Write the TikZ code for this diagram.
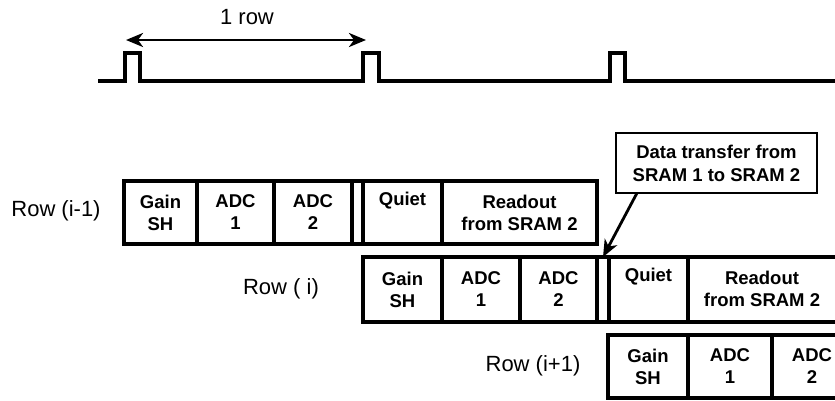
\documentclass[tikz,border=0pt]{standalone}
\usepackage{fontspec}
\setmainfont{Liberation Sans}
\usetikzlibrary{arrows.meta}
\tikzset{
  cell/.style={draw, line width=3.2pt, anchor=north west, inner sep=0pt, outer sep=0pt,
    align=center, font=\bfseries\fontsize{18.5}{22}\selectfont},
  txt/.style={inner sep=0pt, align=center, font=\bfseries\fontsize{18.5}{22}\selectfont},
  rowlabel/.style={inner sep=0pt, font=\fontsize{22}{26}\selectfont},
  wave/.style={line width=3.2pt, line join=miter},
  tip/.style={line width=2.8pt, -{Stealth[length=17pt,width=14pt,inset=5pt]}},
  dbltip/.style={line width=2.8pt, {Stealth[length=17pt,width=14pt,inset=5pt]}-{Stealth[length=17pt,width=14pt,inset=5pt]}},
}
\begin{document}
\begin{tikzpicture}[x=1pt,y=-1pt]
\useasboundingbox (0,0) rectangle (835,400);
\clip (0,0) rectangle (835,400);
\fill[white] (0,0) rectangle (835,400);

% waveform
\coordinate (w0) at (98,81);
\draw[wave] (w0) -- (125,81) -- (125,53) -- (140,53) -- (140,81)
  -- (363,81) -- (363,53) -- (379,53) -- (379,81)
  -- (610,81) -- (610,53) -- (625,53) -- (625,81) -- (840,81);
\coordinate (ra) at (126,40);
\coordinate (rb) at (366,40);
\draw[dbltip] (ra) -- (rb);
\node[rowlabel] (onerow) at (247,17) {1 row};

% Row (i-1)
\node[rowlabel] (l1) at (56,211) {Row (i-1)};
\node[cell, minimum width=73pt, minimum height=63pt] (a1) at (124,181) {Gain\\SH};
\node[cell, minimum width=77pt, minimum height=63pt] (a2) at (197,181) {ADC\\1};
\node[cell, minimum width=78pt, minimum height=63pt] (a3) at (274,181) {ADC\\2};
\node[cell, minimum width=11pt, minimum height=63pt] (a4) at (352,181) {};
\node[cell, minimum width=79pt, minimum height=63pt] (a5) at (363,181) {};
\node[txt, anchor=north] at ([yshift=-11pt]a5.north) {Quiet};
\node[cell, minimum width=155pt, minimum height=63pt] (a6) at (442,181) {Readout\\from SRAM 2};

% Row (i)
\node[rowlabel] (l2) at (281,289) {Row ( i)};
\node[cell, minimum width=79pt, minimum height=65pt] (b1) at (363,257) {Gain\\SH};
\node[cell, minimum width=78pt, minimum height=65pt] (b2) at (442,257) {ADC\\1};
\node[cell, minimum width=77pt, minimum height=65pt] (b3) at (520,257) {ADC\\2};
\node[cell, minimum width=12pt, minimum height=65pt] (b4) at (597,257) {};
\node[cell, minimum width=79pt, minimum height=65pt] (b5) at (609,257) {};
\node[txt, anchor=north] at ([yshift=-11pt]b5.north) {Quiet};
\node[cell, minimum width=150pt, minimum height=65pt] (b6) at (688,257) {};
\node[txt] at (762,289) {Readout\\from SRAM 2};

% Row (i+1)
\node[rowlabel] (l3) at (533,366) {Row (i+1)};
\node[cell, minimum width=80pt, minimum height=63pt] (c1) at (608,335) {Gain\\SH};
\node[cell, minimum width=84pt, minimum height=63pt] (c2) at (688,335) {ADC\\1};
\node[cell, minimum width=80pt, minimum height=63pt] (c3) at (772,335) {};
\node[txt] at (812,366) {ADC\\2};

% callout
\node[draw, line width=2.8pt, anchor=north west, inner sep=0pt, outer sep=0pt,
  minimum width=201pt, minimum height=60pt, align=center,
  font=\bfseries\fontsize{18.5}{23}\selectfont] (call) at (616,133)
  {Data transfer from\\SRAM 1 to SRAM 2};
\draw[tip] ([xshift=21pt]call.south west) -- (b4.north);
\end{tikzpicture}
\end{document}
